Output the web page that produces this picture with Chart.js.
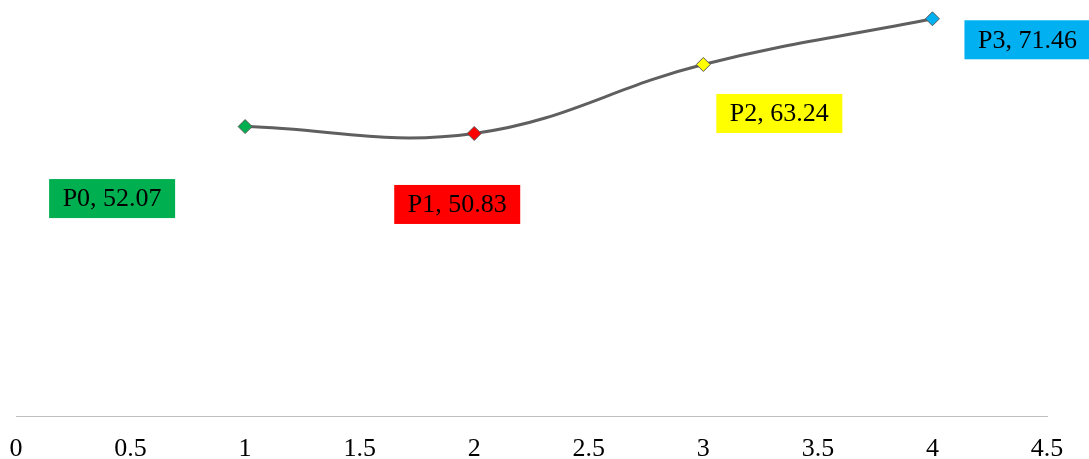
<!DOCTYPE html>
<html>
<head>
<meta charset="utf-8">
<script src="https://cdn.jsdelivr.net/npm/chart.js@4.4.1/dist/chart.umd.min.js"></script>
<style>
  html, body { margin: 0; padding: 0; background: #ffffff; }
  #wrap { width: 1089px; height: 459px; position: relative; }
</style>
</head>
<body>
<div id="wrap"><canvas id="chart"></canvas></div>
<script>
// Series data
const pointNames = ['P0', 'P1', 'P2', 'P3'];
const xValues = [1, 2, 3, 4];
const yValues = [52.07, 50.83, 63.24, 71.46];
const xTicks = [0, 0.5, 1, 1.5, 2, 2.5, 3, 3.5, 4, 4.5];

// Per-point fill colours and label offsets (pixels from the marker)
const pointColors = ['#00B050', '#FF0000', '#FFFF00', '#00B0F0'];
const labelOffsets = [[-133, 72], [-17, 71], [76, 49], [95, 21]];

const FONT = "'Liberation Serif', 'Times New Roman', serif";

// Draws the coloured value boxes next to each marker
const valueBoxes = {
  id: 'valueBoxes',
  afterDatasetsDraw(chart) {
    const ctx = chart.ctx;
    const meta = chart.getDatasetMeta(0);
    ctx.save();
    ctx.font = '26px ' + FONT;
    ctx.textAlign = 'center';
    ctx.textBaseline = 'middle';
    meta.data.forEach((pt, i) => {
      const cx = pt.x + labelOffsets[i][0];
      const cy = pt.y + labelOffsets[i][1];
      const w = 126, h = 39;
      ctx.fillStyle = pointColors[i];
      ctx.fillRect(cx - w / 2, cy - h / 2, w, h);
      ctx.fillStyle = '#000000';
      ctx.fillText(pointNames[i] + ', ' + yValues[i].toFixed(2), cx, cy + 1);
    });
    ctx.restore();
  }
};

new Chart(document.getElementById('chart'), {
  type: 'line',
  data: {
    datasets: [{
      data: xValues.map((x, i) => ({ x: x, y: yValues[i] })),
      borderColor: '#5F5F5F',
      borderWidth: 3,
      tension: 0.4,
      pointStyle: 'rectRot',
      pointRadius: 7,
      pointHoverRadius: 7,
      pointBackgroundColor: pointColors,
      pointBorderColor: '#595959',
      pointBorderWidth: 1,
      clip: false
    }]
  },
  options: {
    responsive: true,
    maintainAspectRatio: false,
    animation: false,
    layout: { padding: { left: 16, right: 42, top: 0, bottom: 0 } },
    plugins: {
      legend: { display: false },
      tooltip: { enabled: false }
    },
    scales: {
      x: {
        type: 'linear',
        min: 0,
        max: 4.5,
        afterBuildTicks(scale) {
          scale.ticks = xTicks.map(v => ({ value: v }));
        },
        afterFit(scale) {
          scale.height = 43;
          scale.paddingLeft = 0;
          scale.paddingRight = 0;
        },
        grid: { display: false, drawTicks: false },
        border: { display: true, color: '#BFBFBF', width: 1 },
        ticks: {
          color: '#000000',
          padding: 18,
          maxRotation: 0,
          autoSkip: false,
          font: { family: FONT, size: 26 },
          callback: v => String(v)
        }
      },
      y: {
        display: false,
        min: 0,
        max: 73.4
      }
    }
  },
  plugins: [valueBoxes]
});
</script>
</body>
</html>
